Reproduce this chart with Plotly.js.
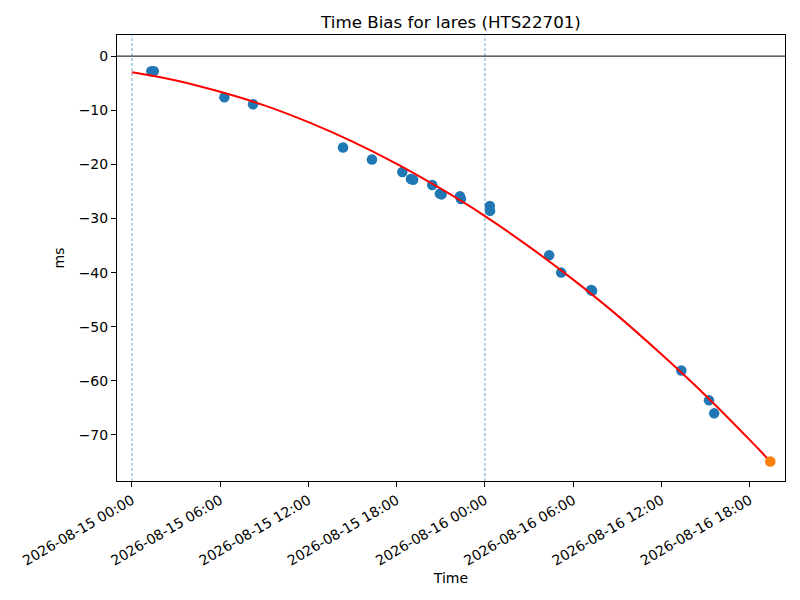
<!DOCTYPE html>
<html>
<head>
<meta charset="utf-8">
<script src="https://cdn.plot.ly/plotly-3.0.1.min.js"></script>
<style>
  body { margin: 0; background: #fff; }
  #chart { width: 800px; height: 600px; }
</style>
</head>
<body>
<div id="chart"></div>
<script>
// measured pass times and time bias (ms)
const obsTimes = [
  '2026-08-15 01:19', '2026-08-15 01:29', '2026-08-15 06:17', '2026-08-15 08:14',
  '2026-08-15 14:21', '2026-08-15 16:19', '2026-08-15 18:23', '2026-08-15 18:58',
  '2026-08-15 19:07', '2026-08-15 20:25', '2026-08-15 20:56', '2026-08-15 21:03',
  '2026-08-15 22:18', '2026-08-15 22:22', '2026-08-16 00:20', '2026-08-16 00:21',
  '2026-08-16 04:22', '2026-08-16 05:11', '2026-08-16 07:13', '2026-08-16 07:17',
  '2026-08-16 13:21', '2026-08-16 15:14', '2026-08-16 15:35'
];
const obsBias = [
  -2.8, -2.8, -7.6, -8.9,
  -16.9, -19.1, -21.4, -22.7,
  -22.85, -23.8, -25.4, -25.55,
  -25.9, -26.4, -27.7, -28.6,
  -36.8, -40.0, -43.2, -43.35,
  -58.1, -63.6, -66.0
];

// fitted trend
const fitTimes = [
  '2026-08-15 00:00', '2026-08-15 03:00', '2026-08-15 06:00', '2026-08-15 09:00',
  '2026-08-15 12:00', '2026-08-15 15:00', '2026-08-15 18:00', '2026-08-15 21:00',
  '2026-08-16 00:00', '2026-08-16 03:00', '2026-08-16 06:00', '2026-08-16 09:00',
  '2026-08-16 12:00', '2026-08-16 15:00', '2026-08-16 18:00', '2026-08-16 19:24'
];
const fitBias = [
  -3.0, -4.5, -6.6, -9.1,
  -12.2, -15.8, -19.9, -24.5,
  -29.55, -35.2, -41.3, -47.9,
  -55.1, -62.7, -70.9, -74.9
];

// predicted value (orange)
const predTime = ['2026-08-16 19:24'];
const predBias = [-74.9];

// markers for start and day boundary
const vLines = ['2026-08-15 00:00', '2026-08-16 00:00'];

const xTicks = [
  '2026-08-15 00:00', '2026-08-15 06:00', '2026-08-15 12:00', '2026-08-15 18:00',
  '2026-08-16 00:00', '2026-08-16 06:00', '2026-08-16 12:00', '2026-08-16 18:00'
];
const yTicks = [0, -10, -20, -30, -40, -50, -60, -70];

const font = 'DejaVu Sans, sans-serif';

const traces = [
  {
    x: obsTimes, y: obsBias, type: 'scatter', mode: 'markers',
    marker: { color: '#1f77b4', size: 10.5 }
  },
  {
    x: fitTimes, y: fitBias, type: 'scatter', mode: 'lines',
    line: { color: 'red', width: 2, shape: 'spline' }
  },
  {
    x: predTime, y: predBias, type: 'scatter', mode: 'markers',
    marker: { color: '#ff7f0e', size: 10.5 }
  }
];

const shapes = vLines.map(t => ({
  type: 'line', xref: 'x', yref: 'paper', x0: t, x1: t, y0: 0, y1: 1,
  line: { color: '#1f77b4', width: 0.8, dash: '3px,2px' }, opacity: 0.8, layer: 'below'
}));
shapes.push({
  type: 'line', xref: 'paper', yref: 'y', x0: 0, x1: 1, y0: 0, y1: 0,
  line: { color: 'black', width: 1 }, layer: 'below'
});

const layout = {
  width: 800, height: 600,
  margin: { l: 117, r: 15, t: 35, b: 119 },
  paper_bgcolor: 'white', plot_bgcolor: 'white',
  showlegend: false,
  font: { family: font, size: 14, color: 'black' },
  title: { text: 'Time Bias for lares (HTS22701)', font: { family: font, size: 16.7, color: 'black' },
           xref: 'paper', x: 0.5, xanchor: 'center', y: 0.963, yanchor: 'middle' },
  xaxis: {
    type: 'date',
    range: ['2026-08-14 22:59', '2026-08-16 20:24'],
    tickvals: xTicks,
    ticktext: xTicks,
    tickangle: -30,
    ticks: 'outside', ticklen: 5, tickwidth: 1, tickcolor: 'black',
    showline: true, linecolor: 'black', linewidth: 1, mirror: true,
    showgrid: false, zeroline: false,
    tickfont: { family: font, size: 14 },
    title: { text: 'Time', font: { family: font, size: 14 }, standoff: 5 }
  },
  yaxis: {
    range: [-78.5, 3.9],
    tickvals: yTicks,
    ticks: 'outside', ticklen: 5, tickwidth: 1, tickcolor: 'black',
    showline: true, linecolor: 'black', linewidth: 1, mirror: true,
    showgrid: false, zeroline: false,
    tickfont: { family: font, size: 14 },
    title: { text: 'ms', font: { family: font, size: 14 }, standoff: 10 }
  },
  shapes: shapes
};

Plotly.newPlot('chart', traces, layout, { staticPlot: true, displayModeBar: false });
</script>
</body>
</html>
